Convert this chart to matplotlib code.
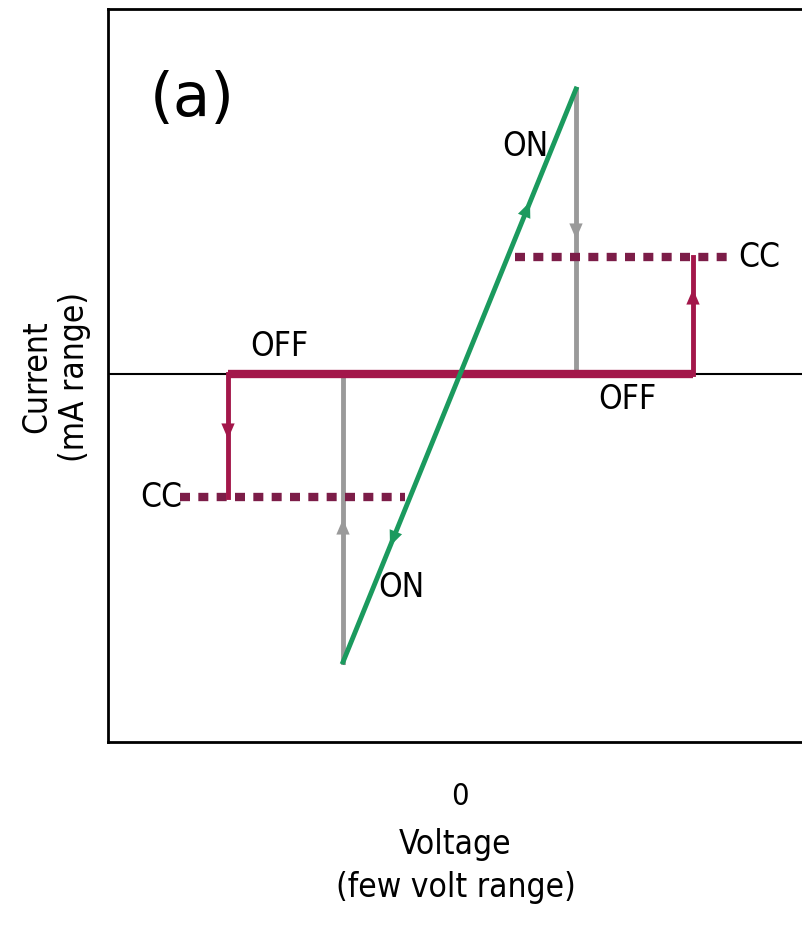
import matplotlib
matplotlib.use("Agg")
import matplotlib.pyplot as plt

# data in arbitrary units (voltage ~ x, current ~ y)
on_x = [-1.17, 1.16]
on_y = [-2.88, 2.85]
off_x = [-2.32, 2.33]
off_y = [0, 0]
cc_pos_x = [0.55, 2.75]
cc_pos_y = 1.17
cc_neg_x = [-2.80, -0.55]
cc_neg_y = -1.23
jump_pos_x = 1.16          # grey drop ON -> OFF at positive side
jump_neg_x = -1.17
step_pos_x = 2.33          # red step OFF -> CC
step_neg_x = -2.32

GREEN = "#1b9a5e"
MAROON = "#a3174a"
DASH = "#7c1d48"
GREY = "#9a9a9a"

plt.rcParams["font.family"] = ["DejaVu Sans"]
plt.rcParams["font.stretch"] = "condensed"

fig = plt.figure(figsize=(8.03, 9.28), dpi=100)
ax = fig.add_axes([108 / 803, 185 / 928, 695 / 803, 733 / 928])
ax.set_xlim(-3.52, 3.43)
ax.set_ylim(-3.68, 3.65)

ax.axhline(0, color="black", lw=1.5, zorder=1)

# grey vertical transitions
ax.plot([jump_pos_x, jump_pos_x], [on_y[1], 0], color=GREY, lw=3.5, zorder=2)
ax.plot([jump_neg_x, jump_neg_x], [0, on_y[0]], color=GREY, lw=3.5, zorder=2)

# dashed CC levels
ax.plot(cc_pos_x, [cc_pos_y] * 2, color=DASH, lw=6, ls=(0, (1.2, 1.0)), zorder=3)
ax.plot(cc_neg_x, [cc_neg_y] * 2, color=DASH, lw=6, ls=(0, (1.2, 1.0)), zorder=3)

# OFF state and steps
ax.plot(off_x, off_y, color=MAROON, lw=6, zorder=3, solid_capstyle="butt")
ax.plot([step_pos_x, step_pos_x], [0, cc_pos_y], color=MAROON, lw=3.5, zorder=3)
ax.plot([step_neg_x, step_neg_x], [0, cc_neg_y], color=MAROON, lw=3.5, zorder=3)

# ON line
ax.plot(on_x, on_y, color=GREEN, lw=3.5, zorder=4)


def arrow(x0, y0, x1, y1, c):
    ax.annotate("", xy=(x1, y1), xytext=(x0, y0),
                arrowprops=dict(arrowstyle="-|>,head_length=0.7,head_width=0.3",
                                mutation_scale=16, color=c, lw=0,
                                shrinkA=0, shrinkB=0), zorder=5)


slope = (on_y[1] - on_y[0]) / (on_x[1] - on_x[0])
arrow(0.55, 0.55 * slope, 0.70, 0.70 * slope, GREEN)
arrow(-0.55, -0.55 * slope, -0.70, -0.70 * slope, GREEN)
arrow(jump_pos_x, 1.7, jump_pos_x, 1.35, GREY)
arrow(jump_neg_x, -1.8, jump_neg_x, -1.45, GREY)
arrow(step_neg_x, -0.3, step_neg_x, -0.65, MAROON)
arrow(step_pos_x, 0.5, step_pos_x, 0.85, MAROON)

fs = 24
ax.text(0.42, 2.28, "ON", fontsize=fs, ha="left", va="center")
ax.text(2.78, 1.17, "CC", fontsize=fs, ha="left", va="center")
ax.text(-2.10, 0.12, "OFF", fontsize=fs, ha="left", va="bottom")
ax.text(1.38, -0.08, "OFF", fontsize=fs, ha="left", va="top")
ax.text(-2.78, -1.23, "CC", fontsize=fs, ha="right", va="center")
ax.text(-0.82, -2.13, "ON", fontsize=fs, ha="left", va="center")
ax.text(-3.1, 2.75, "(a)", fontsize=44, fontstretch="normal", ha="left", va="center")

ax.set_xticks([0], ["0"], fontsize=22)
ax.set_yticks([])
ax.tick_params(axis="x", length=0, pad=28)
ax.set_xlabel("Voltage\n(few volt range)", fontsize=24, labelpad=12, linespacing=1.4)
ax.set_ylabel("Current\n(mA range)", fontsize=24, labelpad=12, linespacing=1.2)

for s in ("left", "top", "bottom"):
    ax.spines[s].set_linewidth(2)
ax.spines["right"].set_visible(False)

fig.savefig("out.png", dpi=100)
